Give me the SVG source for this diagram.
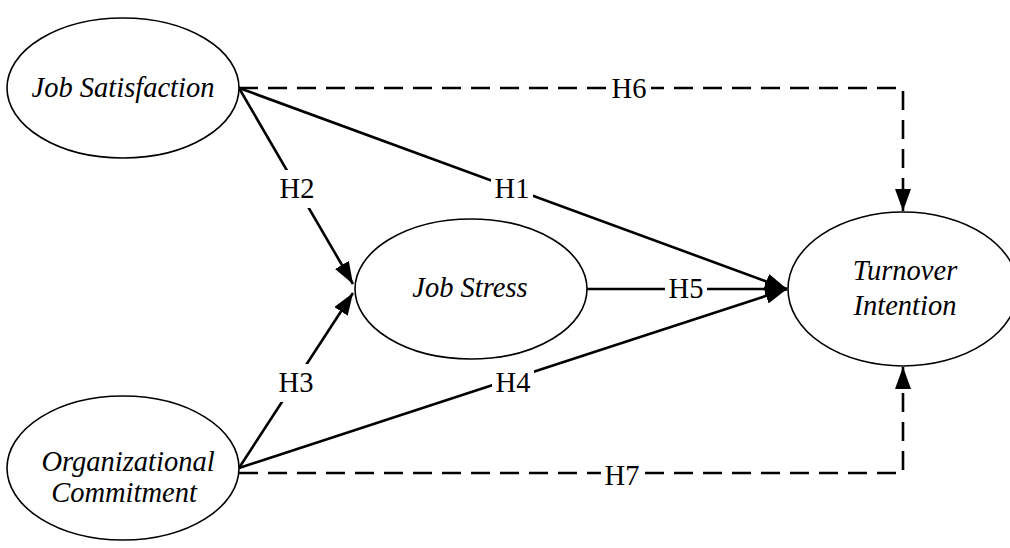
<svg xmlns="http://www.w3.org/2000/svg" width="1010" height="548" viewBox="0 0 1010 548">
<style>
.node{fill:#fff;stroke:#000;stroke-width:1.6}
.e{fill:none;stroke:#000;stroke-width:2.6}
.d{stroke-dasharray:19 10}
.bg{fill:#fff}
</style>
<defs>
<marker id="ah" markerUnits="userSpaceOnUse" markerWidth="22" markerHeight="16" refX="22" refY="8" orient="auto">
<path d="M0,0 L22,8 L0,16 z" fill="#000"/>
</marker>
</defs>
<rect width="1010" height="548" fill="#fff"/>
<g id="connectors">
<path class="e d" d="M239,88 H903 V211" marker-end="url(#ah)"/>
<path class="e d" d="M239,473 H903 V367" marker-end="url(#ah)"/>
<line class="e" x1="239" y1="88" x2="787" y2="289" marker-end="url(#ah)"/>
<line class="e" x1="239" y1="88" x2="353" y2="284" marker-end="url(#ah)"/>
<line class="e" x1="239" y1="468" x2="353" y2="293" marker-end="url(#ah)"/>
<line class="e" x1="239" y1="468" x2="787" y2="289" marker-end="url(#ah)"/>
<line class="e" x1="587" y1="289" x2="787" y2="289" marker-end="url(#ah)"/>
<g font-family="Liberation Serif, Times New Roman, serif" font-size="28.5" text-anchor="middle" fill="#000">
<rect class="bg" x="609" y="72" width="42" height="32"/>
<text x="629" y="98">H6</text>
<rect class="bg" x="601" y="458" width="42" height="32"/>
<text x="622" y="485">H7</text>
<rect class="bg" x="491" y="170" width="42" height="36"/>
<text x="512" y="198">H1</text>
<rect class="bg" x="276" y="170" width="42" height="38"/>
<text x="297" y="198">H2</text>
<rect class="bg" x="275" y="364" width="42" height="38"/>
<text x="296" y="392">H3</text>
<rect class="bg" x="492" y="364" width="42" height="36"/>
<text x="513" y="392">H4</text>
<rect class="bg" x="665" y="274" width="42" height="30"/>
<text x="686" y="298">H5</text>
</g>
</g>
<g font-family="Liberation Serif, Times New Roman, serif" font-style="italic" font-size="28.5" text-anchor="middle" fill="#000">
<g id="job-satisfaction">
<ellipse class="node" cx="123" cy="88" rx="116" ry="70"/>
<text x="123" y="97">Job Satisfaction</text>
</g>
<g id="organizational-commitment">
<ellipse class="node" cx="123" cy="468" rx="116" ry="72"/>
<text x="128" y="471">Organizational</text>
<text x="124" y="502">Commitment</text>
</g>
<g id="job-stress">
<ellipse class="node" cx="471" cy="289" rx="116" ry="70"/>
<text x="470" y="297">Job Stress</text>
</g>
<g id="turnover-intention">
<ellipse class="node" cx="903" cy="289" rx="115" ry="77"/>
<text x="905" y="280">Turnover</text>
<text x="905" y="315">Intention</text>
</g>
</g>
</svg>
